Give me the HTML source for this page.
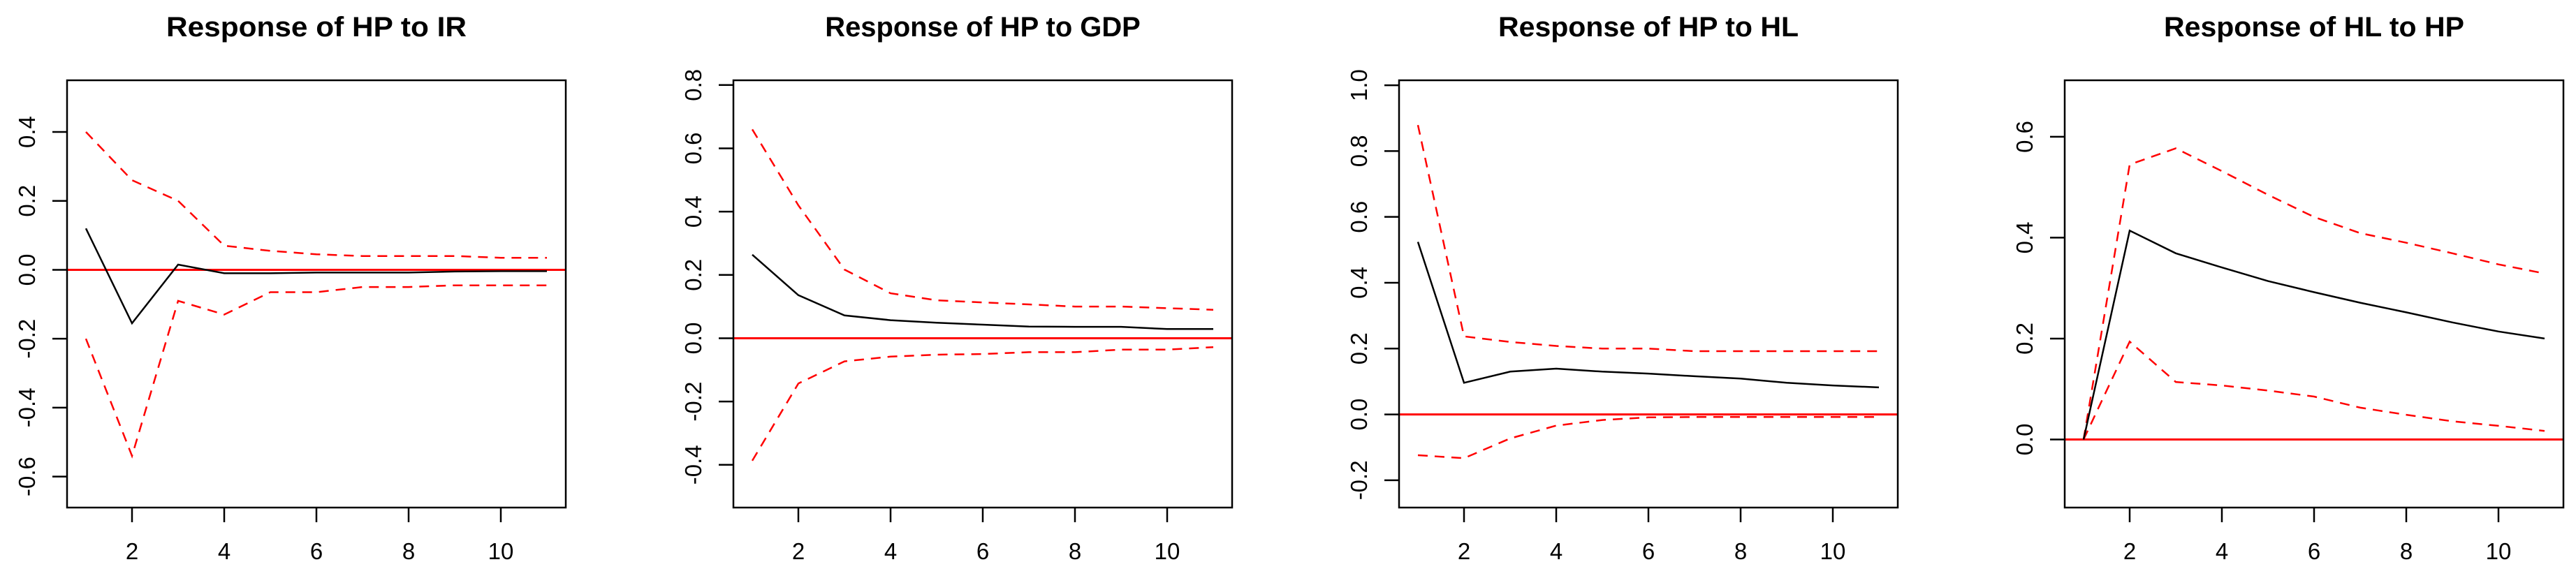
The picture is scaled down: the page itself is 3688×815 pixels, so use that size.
<!DOCTYPE html>
<html><head><meta charset="utf-8"><style>
html,body{margin:0;padding:0;background:#fff;}
svg{display:block;font-family:"Liberation Sans",Arial,sans-serif;}
</style></head><body>
<svg id="chart" width="3688" height="815" viewBox="0 0 3688 815" xmlns="http://www.w3.org/2000/svg"></svg>
<script>
const steps = [1,2,3,4,5,6,7,8,9,10,11];
const xTicks = [2,4,6,8,10];
const titles = ["Response of HP to IR","Response of HP to GDP","Response of HP to HL","Response of HL to HP"];
const midIR = [0.12,-0.155,0.015,-0.01,-0.01,-0.008,-0.008,-0.008,-0.005,-0.004,-0.004];
const upIR = [0.40,0.26,0.20,0.07,0.055,0.045,0.04,0.04,0.04,0.035,0.035];
const loIR = [-0.20,-0.54,-0.09,-0.13,-0.065,-0.065,-0.05,-0.05,-0.045,-0.045,-0.045];
const midGDP = [0.264,0.136,0.072,0.057,0.049,0.043,0.037,0.036,0.036,0.029,0.029];
const upGDP = [0.66,0.42,0.217,0.142,0.12,0.113,0.107,0.10,0.10,0.095,0.09];
const loGDP = [-0.387,-0.143,-0.073,-0.058,-0.052,-0.05,-0.044,-0.044,-0.036,-0.036,-0.028];
const midHL = [0.524,0.096,0.13,0.139,0.13,0.124,0.116,0.109,0.096,0.088,0.082];
const upHL = [0.879,0.237,0.22,0.208,0.2,0.2,0.192,0.192,0.192,0.192,0.192];
const loHL = [-0.124,-0.133,-0.073,-0.034,-0.017,-0.009,-0.008,-0.008,-0.008,-0.008,-0.008];
const midHP = [0,0.414,0.369,0.341,0.314,0.292,0.271,0.252,0.232,0.214,0.2];
const upHP = [0,0.545,0.577,0.532,0.485,0.441,0.409,0.39,0.369,0.347,0.329];
const loHP = [0,0.194,0.114,0.107,0.097,0.085,0.063,0.049,0.036,0.027,0.017];
const yTicksIR = ["-0.6","-0.4","-0.2","0.0","0.2","0.4"];
const yTicksGDP = ["-0.4","-0.2","0.0","0.2","0.4","0.6","0.8"];
const yTicksHL = ["-0.2","0.0","0.2","0.4","0.6","0.8","1.0"];
const yTicksHP = ["0.0","0.2","0.4","0.6"];

const NS="http://www.w3.org/2000/svg";
const svgEl=document.getElementById('chart');
function mk(tag,attrs,parent){const e=document.createElementNS(NS,tag);for(const k in attrs)e.setAttribute(k,attrs[k]);(parent||svgEl).appendChild(e);return e;}

const panels=[
 {left:96,yMin:-0.69,yMax:0.55,mid:midIR,up:upIR,lo:loIR,ticks:yTicksIR,key:"ir"},
 {left:1050,yMin:-0.535,yMax:0.815,mid:midGDP,up:upGDP,lo:loGDP,ticks:yTicksGDP,key:"gdp"},
 {left:2003,yMin:-0.283,yMax:1.015,mid:midHL,up:upHL,lo:loHL,ticks:yTicksHL,key:"hl"},
 {left:2956,yMin:-0.135,yMax:0.712,mid:midHP,up:upHP,lo:loHP,ticks:yTicksHP,key:"hp"}
];
const plotTop=115,plotBottom=727,W=714;

panels.forEach((p,i)=>{
  const g=mk('g',{});
  
  
  const xs=v=>p.left+27+(v-1)*66;
  const ys=v=>plotBottom-(v-p.yMin)/(p.yMax-p.yMin)*(plotBottom-plotTop);
  const t=mk('text',{x:p.left+W/2,y:52,'text-anchor':'middle','font-size':40,'font-weight':'bold',fill:'#000',textLength:titles[i].length*21.5,lengthAdjust:'spacingAndGlyphs'},g);
  t.textContent=titles[i];
  
  
  const z=mk('line',{x1:p.left,x2:p.left+W,y1:ys(0),y2:ys(0),stroke:'#f00','stroke-width':3},g);
  
  
  const path=arr=>arr.map((v,j)=>(j?'L':'M')+xs(steps[j]).toFixed(1)+' '+ys(v).toFixed(1)).join(' ');
  const u=mk('path',{d:path(p.up),fill:'none',stroke:'#f00','stroke-width':2.5,'stroke-dasharray':'14 10'},g);
  
  
  const l=mk('path',{d:path(p.lo),fill:'none',stroke:'#f00','stroke-width':2.5,'stroke-dasharray':'14 10'},g);
  
  
  const m=mk('path',{d:path(p.mid),fill:'none',stroke:'#000','stroke-width':2.5},g);
  
  
  const b=mk('rect',{x:p.left,y:plotTop,width:W,height:plotBottom-plotTop,fill:'none',stroke:'#000','stroke-width':2.5},g);
  
  
  xTicks.forEach(v=>{
    const tk=mk('line',{x1:xs(v),x2:xs(v),y1:plotBottom,y2:plotBottom+21,stroke:'#000','stroke-width':2.5},g);
    
    
    const tl=mk('text',{x:xs(v),y:801,'text-anchor':'middle','font-size':33,fill:'#000'},g);
    tl.textContent=String(v);
    
    
  });
  p.ticks.forEach(s=>{
    const v=parseFloat(s);
    const tk=mk('line',{x1:p.left-21,x2:p.left,y1:ys(v),y2:ys(v),stroke:'#000','stroke-width':2.5},g);
    
    
    const tl=mk('text',{x:0,y:0,'text-anchor':'middle','font-size':33,fill:'#000',transform:`translate(${p.left-46},${ys(v)}) rotate(-90)`},g);
    tl.textContent=s;
    
    
  });
});
</script>
</body></html>
